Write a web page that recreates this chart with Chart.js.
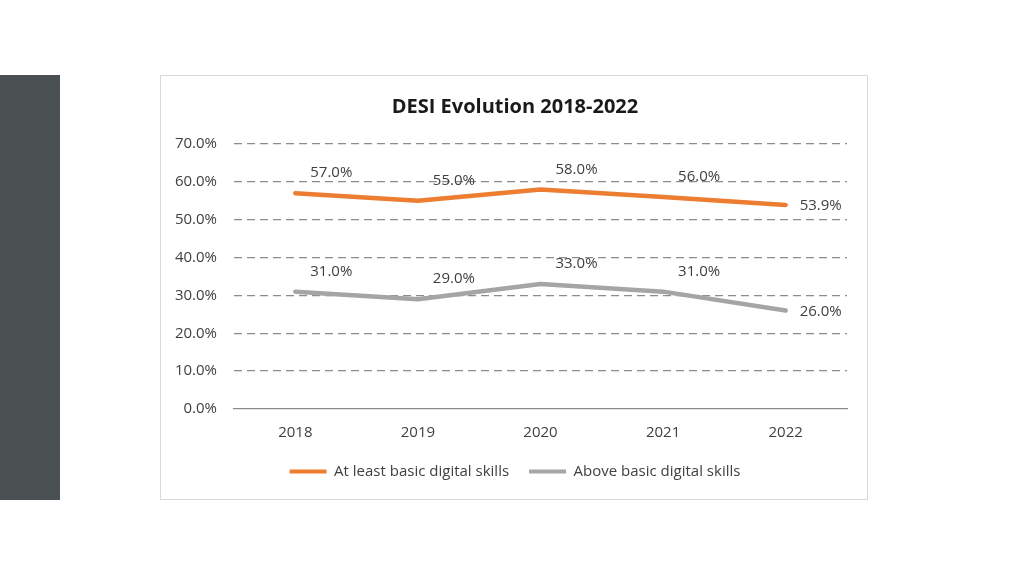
<!DOCTYPE html>
<html>
<head>
<meta charset="utf-8">
<title>DESI Evolution 2018-2022</title>
<script src="https://cdn.jsdelivr.net/npm/chart.js@4/dist/chart.umd.min.js"></script>
<style>
  html, body { margin: 0; padding: 0; background: #fff; }
  body { width: 1024px; height: 576px; position: relative; overflow: hidden; }
  .side-bar { position: absolute; left: 0; top: 75px; width: 60px; height: 425px; background: #4b5153; }
  .chart-box { position: absolute; left: 160px; top: 75px; width: 708px; height: 425px;
    box-sizing: border-box; border: 1px solid #d9d9d9; background: #fff; }
  .chart-box canvas { display: block; }
</style>
</head>
<body>
<div class="side-bar"></div>
<div class="chart-box"><canvas id="chart" width="706" height="423"></canvas></div>
<script>
const years = ["2018", "2019", "2020", "2021", "2022"]
const atLeastBasic = [57.0, 55.0, 58.0, 56.0, 53.9]
const aboveBasic = [31.0, 29.0, 33.0, 31.0, 26.0]
const yTicks = [0, 10, 20, 30, 40, 50, 60, 70]

const FONT = "'Open Sans', 'Liberation Sans', sans-serif"
const pct = (v) => `${Number(v).toFixed(1)}%`

// point labels: up and to the right of each point, the last one beside it
const pointLabels = {
  id: "pointLabels",
  afterDatasetsDraw(chart) {
    const {ctx} = chart
    ctx.save()
    ctx.font = `15px ${FONT}`
    ctx.fillStyle = "#404040"
    ctx.textBaseline = "middle"
    chart.data.datasets.forEach((ds, i) => {
      const meta = chart.getDatasetMeta(i)
      meta.data.forEach((pt, j) => {
        const last = j === meta.data.length - 1
        ctx.textAlign = last ? "left" : "center"
        const x = last ? pt.x + 14 : pt.x + 36
        const y = last ? pt.y + 1 : pt.y - 20
        ctx.fillText(pct(ds.data[j]), x, y)
      })
    })
    ctx.restore()
  }
}

const lineSet = (label, data, color) => ({
  label,
  data,
  borderColor: color,
  backgroundColor: color,
  borderWidth: 4.5,
  borderCapStyle: "round",
  borderJoinStyle: "round",
  tension: 0,
  pointRadius: 0,
  pointHoverRadius: 0,
  yAxisID: "y"
})

new Chart(document.getElementById("chart"), {
  type: "line",
  data: {
    labels: years,
    datasets: [
      lineSet("At least basic digital skills", atLeastBasic, "#ed7d31"),
      lineSet("Above basic digital skills", aboveBasic, "#a5a5a5")
    ]
  },
  options: {
    responsive: false,
    animation: false,
    layout: {padding: {left: 11, right: 9, top: 0, bottom: 10}},
    scales: {
      x: {
        offset: true,
        grid: {display: false, drawTicks: false},
        border: {display: true, color: "#8c8c8c", width: 1.3},
        ticks: {color: "#404040", font: {family: FONT, size: 15}, padding: 15, maxRotation: 0},
        afterFit: (s) => { s.height = 35 }
      },
      y: {
        min: 0,
        max: 70,
        afterBuildTicks: (s) => { s.ticks = yTicks.map(v => ({value: v})) },
        border: {display: false, dash: [8, 5]},
        grid: {
          drawTicks: false,
          lineWidth: 1.3,
          color: (c) => c.tick && c.tick.value === 0 ? "rgba(0,0,0,0)" : "#8c8c8c"
        },
        ticks: {
          color: "#404040",
          font: {family: FONT, size: 15},
          padding: 17,
          callback: (v) => pct(v)
        },
        afterFit: (s) => { s.width = 62 }
      },
      // empty right axis, only keeps the plot off the right edge so the
      // title and legend stay centred on the box
      yRight: {
        position: "right",
        min: 0,
        max: 70,
        grid: {display: false, drawTicks: false},
        border: {display: false},
        ticks: {display: false},
        afterFit: (s) => { s.width = 11 }
      }
    },
    plugins: {
      title: {
        display: true,
        text: "DESI Evolution 2018-2022",
        color: "#1a1a1a",
        font: {family: FONT, size: 20, weight: "bold"},
        padding: {top: 19, bottom: 25}
      },
      legend: {
        position: "bottom",
        labels: {
          color: "#404040",
          font: {family: FONT, size: 15},
          boxWidth: 37,
          boxHeight: 4,
          padding: 20,
          generateLabels: (chart) => Chart.defaults.plugins.legend.labels.generateLabels(chart)
            .map(item => ({...item, lineWidth: 0}))
        }
      },
      tooltip: {enabled: false}
    }
  },
  plugins: [pointLabels]
})
</script>
</body>
</html>
